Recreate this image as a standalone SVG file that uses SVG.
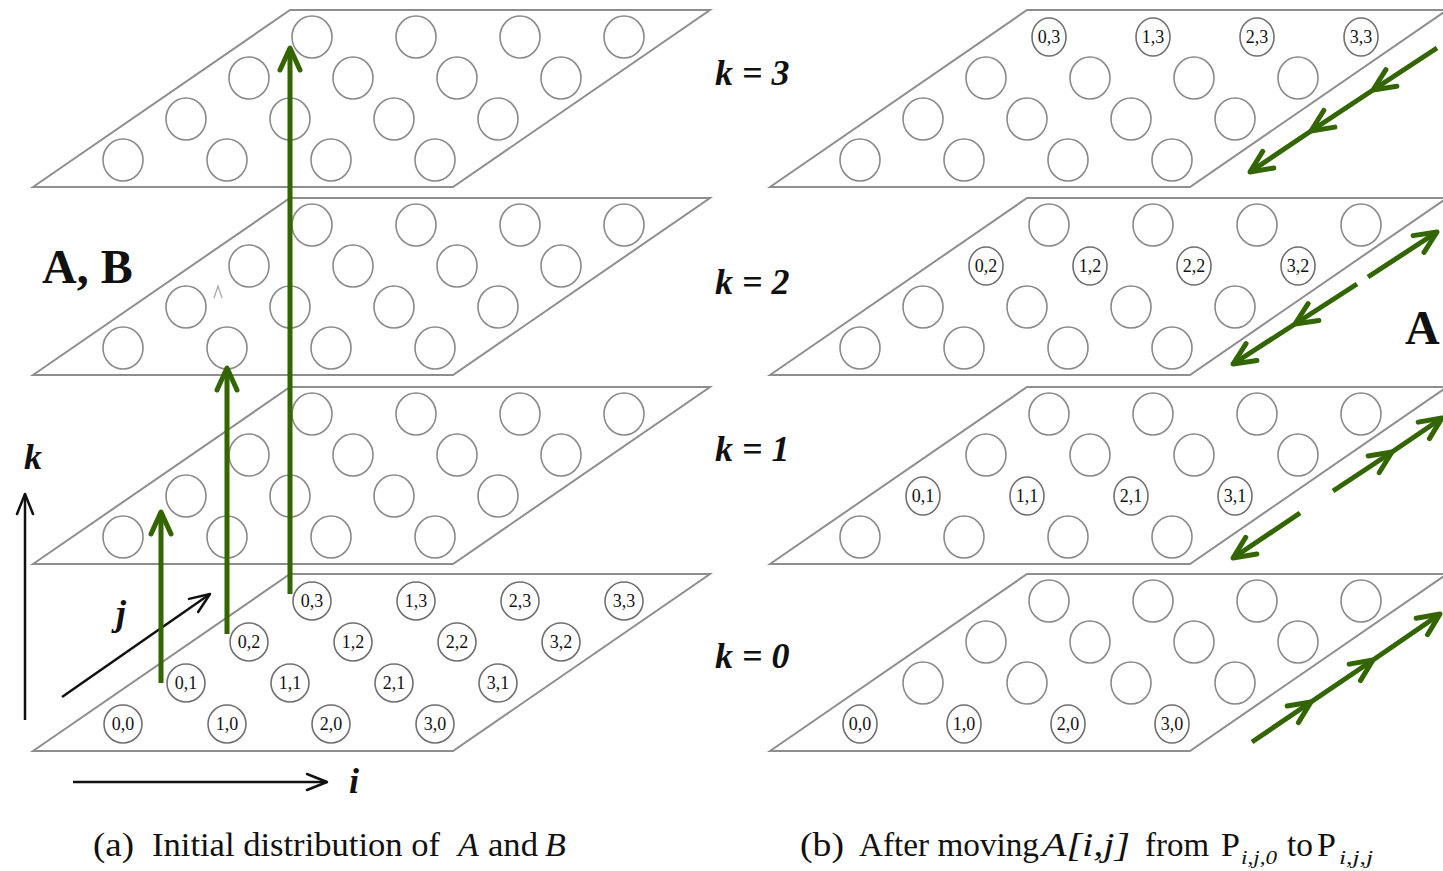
<svg xmlns="http://www.w3.org/2000/svg" width="1443" height="871" viewBox="0 0 1443 871">
<style>
.plane{fill:none;stroke:#8e8e8e;stroke-width:2}
.c{fill:none;stroke:#8a8a8a;stroke-width:1.6}
.lc{fill:none;stroke:#707070;stroke-width:1.6}
.lbl{font-family:"Liberation Serif",serif;font-size:18px;fill:#111;text-anchor:middle;dominant-baseline:central}
.g{fill:none;stroke:#336600;stroke-width:5}
.ax{fill:none;stroke:#111;stroke-width:2.5}
.klab{font-family:"Liberation Serif",serif;font-size:36px;font-weight:bold;font-style:italic;fill:#111}
.cap{font-family:"Liberation Serif",serif;font-size:34px;fill:#111;white-space:pre}
.big{font-family:"Liberation Serif",serif;font-size:48px;font-weight:bold;fill:#111}
</style>
<defs>
<g id="row">
<ellipse class="c" cx="0" cy="0" rx="20" ry="21"/>
<ellipse class="c" cx="104" cy="0" rx="20" ry="21"/>
<ellipse class="c" cx="208" cy="0" rx="20" ry="21"/>
<ellipse class="c" cx="312" cy="0" rx="20" ry="21"/>
</g>
<marker id="gh" markerUnits="userSpaceOnUse" orient="auto" overflow="visible" markerWidth="1" markerHeight="1" refX="0" refY="0">
<path d="M-22,-10 L0,0 L-22,10" fill="none" stroke="#336600" stroke-width="5" stroke-linecap="round" stroke-linejoin="round"/>
</marker>
<marker id="bh" markerUnits="userSpaceOnUse" orient="auto" overflow="visible" markerWidth="1" markerHeight="1" refX="0" refY="0">
<path d="M-20,-8 L0,0 L-20,8" fill="none" stroke="#111" stroke-width="2.5" stroke-linecap="round" stroke-linejoin="round"/>
</marker>
</defs>
<rect width="1443" height="871" fill="#fff"/>

<!-- Left stack -->
<g id="left-plane-3">
<polygon class="plane" points="33,187 290,10 710,10 453,187"/>
<use href="#row" x="123" y="160"/><use href="#row" x="186" y="119"/><use href="#row" x="249" y="78"/><use href="#row" x="312" y="37"/>
</g>
<g id="left-plane-2">
<polygon class="plane" points="33,375 290,198 710,198 453,375"/>
<use href="#row" x="123" y="348"/><use href="#row" x="186" y="307"/><use href="#row" x="249" y="266"/><use href="#row" x="312" y="225"/>
</g>
<g id="left-plane-1">
<polygon class="plane" points="33,564 290,387 710,387 453,564"/>
<use href="#row" x="123" y="537"/><use href="#row" x="186" y="496"/><use href="#row" x="249" y="455"/><use href="#row" x="312" y="414"/>
</g>
<g id="left-plane-0">
<polygon class="plane" points="33,751 290,574 710,574 453,751"/>
<g>
<ellipse class="lc" cx="123" cy="724" rx="19" ry="19"/><text class="lbl" x="123" y="724">0,0</text>
<ellipse class="lc" cx="227" cy="724" rx="19" ry="19"/><text class="lbl" x="227" y="724">1,0</text>
<ellipse class="lc" cx="331" cy="724" rx="19" ry="19"/><text class="lbl" x="331" y="724">2,0</text>
<ellipse class="lc" cx="435" cy="724" rx="19" ry="19"/><text class="lbl" x="435" y="724">3,0</text>
<ellipse class="lc" cx="186" cy="683" rx="19" ry="19"/><text class="lbl" x="186" y="683">0,1</text>
<ellipse class="lc" cx="290" cy="683" rx="19" ry="19"/><text class="lbl" x="290" y="683">1,1</text>
<ellipse class="lc" cx="394" cy="683" rx="19" ry="19"/><text class="lbl" x="394" y="683">2,1</text>
<ellipse class="lc" cx="498" cy="683" rx="19" ry="19"/><text class="lbl" x="498" y="683">3,1</text>
<ellipse class="lc" cx="249" cy="642" rx="19" ry="19"/><text class="lbl" x="249" y="642">0,2</text>
<ellipse class="lc" cx="353" cy="642" rx="19" ry="19"/><text class="lbl" x="353" y="642">1,2</text>
<ellipse class="lc" cx="457" cy="642" rx="19" ry="19"/><text class="lbl" x="457" y="642">2,2</text>
<ellipse class="lc" cx="561" cy="642" rx="19" ry="19"/><text class="lbl" x="561" y="642">3,2</text>
<ellipse class="lc" cx="312" cy="601" rx="19" ry="19"/><text class="lbl" x="312" y="601">0,3</text>
<ellipse class="lc" cx="416" cy="601" rx="19" ry="19"/><text class="lbl" x="416" y="601">1,3</text>
<ellipse class="lc" cx="520" cy="601" rx="19" ry="19"/><text class="lbl" x="520" y="601">2,3</text>
<ellipse class="lc" cx="624" cy="601" rx="19" ry="19"/><text class="lbl" x="624" y="601">3,3</text>
</g>
</g>

<!-- Right stack -->
<g id="right-plane-3">
<polygon class="plane" points="770,187 1027,10 1447,10 1190,187"/>
<use href="#row" x="860" y="160"/><use href="#row" x="923" y="119"/><use href="#row" x="986" y="78"/>
<ellipse class="lc" cx="1049" cy="37" rx="17" ry="19"/><text class="lbl" x="1049" y="37">0,3</text>
<ellipse class="lc" cx="1153" cy="37" rx="17" ry="19"/><text class="lbl" x="1153" y="37">1,3</text>
<ellipse class="lc" cx="1257" cy="37" rx="17" ry="19"/><text class="lbl" x="1257" y="37">2,3</text>
<ellipse class="lc" cx="1361" cy="37" rx="17" ry="19"/><text class="lbl" x="1361" y="37">3,3</text>
</g>
<g id="right-plane-2">
<polygon class="plane" points="770,375 1027,198 1447,198 1190,375"/>
<use href="#row" x="860" y="348"/><use href="#row" x="923" y="307"/><use href="#row" x="1049" y="225"/>
<ellipse class="lc" cx="986" cy="266" rx="17" ry="19"/><text class="lbl" x="986" y="266">0,2</text>
<ellipse class="lc" cx="1090" cy="266" rx="17" ry="19"/><text class="lbl" x="1090" y="266">1,2</text>
<ellipse class="lc" cx="1194" cy="266" rx="17" ry="19"/><text class="lbl" x="1194" y="266">2,2</text>
<ellipse class="lc" cx="1298" cy="266" rx="17" ry="19"/><text class="lbl" x="1298" y="266">3,2</text>
</g>
<g id="right-plane-1">
<polygon class="plane" points="770,564 1027,387 1447,387 1190,564"/>
<use href="#row" x="860" y="537"/><use href="#row" x="986" y="455"/><use href="#row" x="1049" y="414"/>
<ellipse class="lc" cx="923" cy="496" rx="17" ry="19"/><text class="lbl" x="923" y="496">0,1</text>
<ellipse class="lc" cx="1027" cy="496" rx="17" ry="19"/><text class="lbl" x="1027" y="496">1,1</text>
<ellipse class="lc" cx="1131" cy="496" rx="17" ry="19"/><text class="lbl" x="1131" y="496">2,1</text>
<ellipse class="lc" cx="1235" cy="496" rx="17" ry="19"/><text class="lbl" x="1235" y="496">3,1</text>
</g>
<g id="right-plane-0">
<polygon class="plane" points="770,751 1027,574 1447,574 1190,751"/>
<use href="#row" x="923" y="683"/><use href="#row" x="986" y="642"/><use href="#row" x="1049" y="601"/>
<ellipse class="lc" cx="860" cy="724" rx="17" ry="19"/><text class="lbl" x="860" y="724">0,0</text>
<ellipse class="lc" cx="964" cy="724" rx="17" ry="19"/><text class="lbl" x="964" y="724">1,0</text>
<ellipse class="lc" cx="1068" cy="724" rx="17" ry="19"/><text class="lbl" x="1068" y="724">2,0</text>
<ellipse class="lc" cx="1172" cy="724" rx="17" ry="19"/><text class="lbl" x="1172" y="724">3,0</text>
</g>

<!-- faint traces -->
<path d="M214,298 L218,286 L222,298" fill="none" stroke="#aaa" stroke-width="1.3"/>

<!-- Axes and labels -->
<g id="axes">
<path class="ax" d="M25,720 V494" marker-end="url(#bh)"/>
<path class="ax" d="M62,697 L210,594" marker-end="url(#bh)" stroke-width="3"/>
<path class="ax" d="M73,782 H327" marker-end="url(#bh)"/>
<text class="klab" x="24" y="469" font-size="31">k</text>
<text class="klab" x="116" y="625" font-size="33">j</text>
<text class="klab" x="349" y="793" font-size="33">i</text>
<text class="big" x="42" y="283">A, B</text>
</g>

<g id="k-labels">
<text class="klab" x="715" y="85">k = 3</text>
<text class="klab" x="715" y="294">k = 2</text>
<text class="klab" x="715" y="461">k = 1</text>
<text class="klab" x="715" y="668">k = 0</text>
<text class="big" x="1405" y="344">A</text>
</g>

<!-- Connectors -->
<g id="connectors">
<path class="g" d="M161,683 V512" marker-end="url(#gh)"/>
<path class="g" d="M227,634 V368" marker-end="url(#gh)"/>
<path class="g" d="M290,594 V48" marker-end="url(#gh)"/>
<path class="g" d="M1437,48 L1373,90 L1311,131 L1250,172" marker-mid="url(#gh)" marker-end="url(#gh)"/>
<path class="g" d="M1368,277 L1437,232" marker-end="url(#gh)"/>
<path class="g" d="M1357,284 L1295,324 L1233,364" marker-mid="url(#gh)" marker-end="url(#gh)"/>
<path class="g" d="M1333,491 L1392,452 L1442,418" marker-mid="url(#gh)" marker-end="url(#gh)"/>
<path class="g" d="M1300,513 L1233,558" marker-end="url(#gh)"/>
<path class="g" d="M1252,742 L1311,702 L1373,660 L1440,614" marker-mid="url(#gh)" marker-end="url(#gh)"/>
</g>

<!-- Captions -->
<text class="cap" y="856"><tspan x="93" textLength="41" lengthAdjust="spacingAndGlyphs">(a)</tspan><tspan x="152" textLength="288" lengthAdjust="spacingAndGlyphs">Initial distribution of</tspan><tspan x="458" font-style="italic">A</tspan><tspan x="488" textLength="50" lengthAdjust="spacingAndGlyphs">and</tspan><tspan x="545" font-style="italic">B</tspan></text>
<text class="cap" y="856"><tspan x="800" textLength="44" lengthAdjust="spacingAndGlyphs">(b)</tspan><tspan x="859" textLength="180" lengthAdjust="spacingAndGlyphs">After moving</tspan><tspan x="1042" font-style="italic" textLength="88" lengthAdjust="spacingAndGlyphs">A[i,j]</tspan><tspan x="1145" textLength="64" lengthAdjust="spacingAndGlyphs">from</tspan><tspan x="1221">P</tspan><tspan x="1241" dy="8" font-size="19" font-style="italic" textLength="36" lengthAdjust="spacingAndGlyphs">i,j,0</tspan><tspan x="1287" dy="-8" textLength="26" lengthAdjust="spacingAndGlyphs">to</tspan><tspan x="1317">P</tspan><tspan x="1339" dy="8" font-size="19" font-style="italic" textLength="34" lengthAdjust="spacingAndGlyphs">i,j,j</tspan></text>
</svg>
